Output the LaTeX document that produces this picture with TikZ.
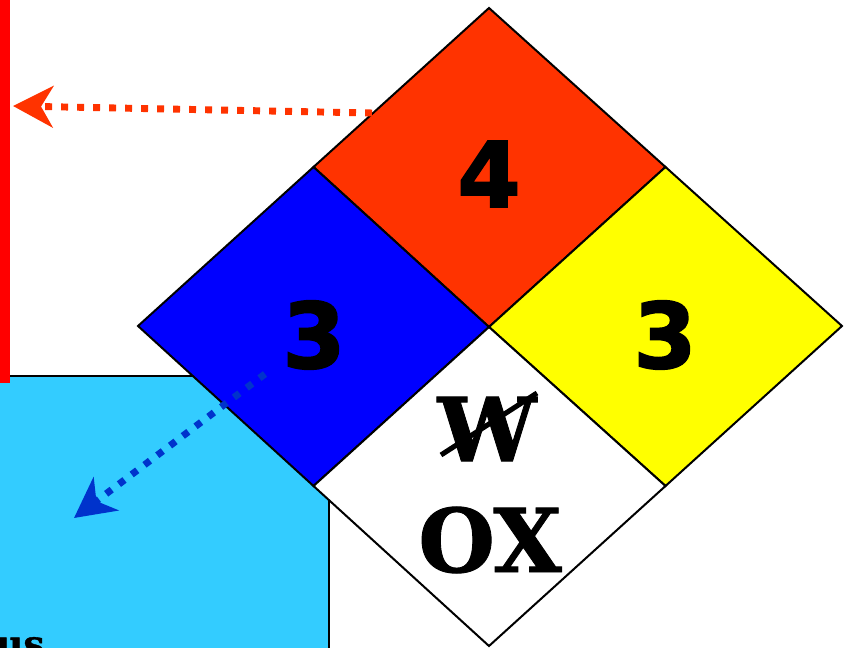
\documentclass[tikz,border=0pt]{standalone}
\usepackage{fontspec}
\usetikzlibrary{arrows.meta}
\newfontfamily\digitfont[FakeBold=2]{DejaVu Sans Bold}
\newfontfamily\slabfont[FakeBold=1]{DejaVu Serif Bold}
\definecolor{nfred}{HTML}{FF3300}
\definecolor{nfblue}{HTML}{0000FF}
\definecolor{nfyellow}{HTML}{FFFF00}
\definecolor{skyfill}{HTML}{33CCFF}
\definecolor{barred}{HTML}{FF0000}
\definecolor{arrblue}{HTML}{0033CC}
\tikzset{
  quad/.style={draw=black, line width=1.5pt, line join=miter},
  digit/.style={font=\digitfont\fontsize{68}{68}\selectfont, inner sep=0pt},
  slab/.style={font=\slabfont\fontsize{66}{66}\selectfont, inner sep=0pt},
  dotarrow/.style={line width=5.2pt, dash pattern=on 5.2pt off 6.8pt,
    -{Stealth[length=30pt, width=31pt, inset=9pt]}},
}
\begin{document}
\begin{tikzpicture}[x=0.75pt, y=-0.75pt]
\useasboundingbox (0,0) rectangle (847,648);
% corner coordinates of the diamond
\coordinate (T) at (489,8);
\coordinate (L) at (138,326);
\coordinate (R) at (842,326);
\coordinate (B) at (489,646);
\coordinate (C) at (489,327);
\coordinate (TL) at (313.5,167);
\coordinate (TR) at (665.5,167);
\coordinate (BL) at (313.5,486);
\coordinate (BR) at (665.5,486);
% light blue panel
\draw[fill=skyfill, draw=black, line width=1.5pt] (-5,376) rectangle (329,670);
\node[font=\slabfont\fontsize{28}{28}\selectfont, anchor=base west, inner sep=0pt] (us) at (-4,657) {us};
% red bar
\fill[barred] (0,0) rectangle (10,383);
% quadrants
\draw[quad, fill=nfred] (T) -- (TL) -- (C) -- (TR) -- cycle;
\draw[quad, fill=nfblue] (TL) -- (L) -- (BL) -- (C) -- cycle;
\draw[quad, fill=nfyellow] (TR) -- (C) -- (BR) -- (R) -- cycle;
\draw[quad, fill=white] (C) -- (BL) -- (B) -- (BR) -- cycle;
% labels
\node[digit] (n4) at (489,174) {4};
\node[digit] (n3b) at (314,335) {3};
\node[digit] (n3y) at (665,335) {3};
\node[slab] (w) at (487,429) {W};
\node[slab] (ox) at (490,540) {OX};
\coordinate (ws) at (441,455);
\coordinate (we) at (537,393);
\draw[line width=3.8pt] (ws) -- (we);
% arrows
\coordinate (ra) at (372,113);
\coordinate (rb) at (13,106);
\draw[dotarrow, nfred] (ra) -- (rb);
\coordinate (ba) at (265,374);
\coordinate (bb) at (74,518);
\draw[dotarrow, arrblue] (ba) -- (bb);
\end{tikzpicture}
\end{document}
